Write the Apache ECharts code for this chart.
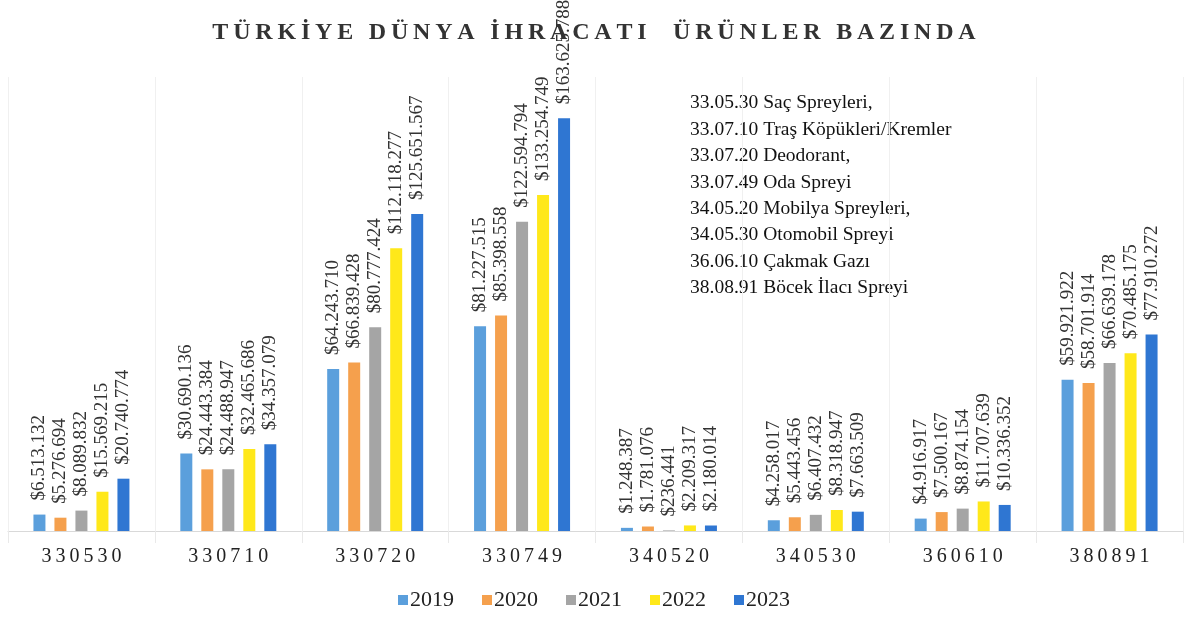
<!DOCTYPE html>
<html>
<head>
<meta charset="utf-8">
<script src="https://cdn.jsdelivr.net/npm/echarts@6/dist/echarts.min.js"></script>
<style>
  html, body { margin: 0; padding: 0; background: #fff; }
  #board { width: 1188px; height: 622px; }
</style>
</head>
<body>
<div id="board"></div>
<script>
// kategoriler (GTİP kodları)
const categories = ["330530", "330710", "330720", "330749", "340520", "340530", "360610", "380891"];
const years = ["2019", "2020", "2021", "2022", "2023"];
// ihracat değerleri ($)
const v2019 = [6513132, 30690136, 64243710, 81227515, 1248387, 4258017, 4916917, 59921922];
const v2020 = [5276694, 24443384, 66839428, 85398558, 1781076, 5443456, 7500167, 58701914];
const v2021 = [8089832, 24488947, 80777424, 122594794, 236441, 6407432, 8874154, 66639178];
const v2022 = [15569215, 32465686, 112118277, 133254749, 2209317, 8318947, 11707639, 70485175];
const v2023 = [20740774, 34357079, 125651567, 163625788, 2180014, 7663509, 10336352, 77910272];
const noteLines = [
  "33.05.30 Saç Spreyleri,",
  "33.07.10 Traş Köpükleri/Kremler",
  "33.07.20 Deodorant,",
  "33.07.49 Oda Spreyi",
  "34.05.20 Mobilya Spreyleri,",
  "34.05.30 Otomobil Spreyi",
  "36.06.10 Çakmak Gazı",
  "38.08.91 Böcek İlacı Spreyi"
];

const colors = ["#5b9fdc", "#f5a04d", "#a5a5a5", "#ffe81a", "#2f76d2"];
const serif = "'Liberation Serif', 'Times New Roman', serif";

// harf aralığı için ince boşluk
function spaced(s) {
  return s.split("").join("\u2009");
}
function money(v) {
  return "$" + String(v).replace(/\B(?=(\d{3})+(?!\d))/g, ".");
}

const allValues = [v2019, v2020, v2021, v2022, v2023];

const option = {
  animation: false,
  color: colors,
  title: {
    text: spaced("TÜRKİYE DÜNYA İHRACATI  ÜRÜNLER BAZINDA"),
    left: "center",
    top: 16,
    textStyle: { fontFamily: serif, fontSize: 24, fontWeight: "bold", color: "#333" }
  },
  legend: {
    data: years,
    bottom: 6,
    left: "center",
    icon: "rect",
    itemWidth: 10,
    itemHeight: 10,
    itemGap: 28,
    textStyle: { fontFamily: serif, fontSize: 22, color: "#222", padding: [0, 0, 0, -3] }
  },
  grid: { left: 8, right: 5, top: 77, bottom: 91 },
  xAxis: {
    type: "category",
    data: categories,
    axisLine: { lineStyle: { color: "#d9d9d9" } },
    axisTick: { show: true, length: 12, lineStyle: { color: "#e9e9e9" } },
    splitLine: { show: true, lineStyle: { color: "#f0f0f0" } },
    axisLabel: {
      margin: 16,
      fontFamily: serif,
      fontSize: 20,
      color: "#222",
      formatter: v => spaced(v)
    }
  },
  yAxis: {
    type: "value",
    min: 0,
    max: 180000000,
    show: false,
    splitLine: { show: false }
  },
  graphic: [{
    type: "text",
    left: 690,
    top: 90,
    style: {
      text: noteLines.join("\n"),
      font: "19.5px " + serif,
      lineHeight: 26.4,
      fill: "#111"
    }
  }],
  series: years.map((y, i) => ({
    name: y,
    type: "bar",
    data: allValues[i],
    barWidth: 12,
    barGap: "75%",
    label: {
      show: true,
      position: "top",
      rotate: 90,
      align: "left",
      verticalAlign: "middle",
      distance: 14,
      fontFamily: serif,
      fontSize: 19,
      color: "#333",
      formatter: p => money(p.value)
    }
  }))
};

const myChart = echarts.init(document.getElementById("board"));
myChart.setOption(option);
</script>
</body>
</html>
